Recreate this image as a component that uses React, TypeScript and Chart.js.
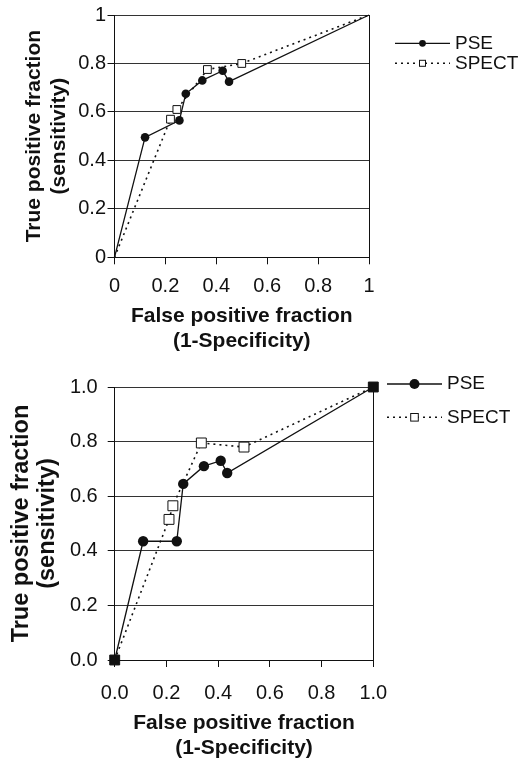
import React, { useEffect, useRef } from 'react';
import { Chart, registerables } from 'chart.js';
Chart.register(...registerables);

// ---------- data ----------
const seriesNames = ['PSE', 'SPECT'];

const topPseX = [0, 0.12, 0.255, 0.28, 0.345, 0.425, 0.45, 1];
const topPseY = [0, 0.495, 0.565, 0.675, 0.73, 0.77, 0.725, 1];
const topSpectX = [0, 0.22, 0.245, 0.365, 0.5, 1];
const topSpectY = [0, 0.57, 0.61, 0.775, 0.8, 1];

const bottomPseX = [0, 0.11, 0.24, 0.265, 0.345, 0.41, 0.435, 1];
const bottomPseY = [0, 0.435, 0.435, 0.645, 0.71, 0.73, 0.685, 1];
const bottomSpectX = [0, 0.21, 0.225, 0.335, 0.5, 1];
const bottomSpectY = [0, 0.515, 0.565, 0.795, 0.78, 1];

const topTickLabels = ['0', '0.2', '0.4', '0.6', '0.8', '1'];
const bottomTickLabels = ['0.0', '0.2', '0.4', '0.6', '0.8', '1.0'];

const xTitle = ['False positive fraction', '(1-Specificity)'];
const yTitle = ['True positive fraction', '(sensitivity)'];

const FONT = "'Liberation Sans', Arial, Helvetica, sans-serif";

type Spec = {
  top: number; H: number;
  plotLeft: number; plotRight: number; plotTop: number; plotBottom: number;
  yTitleSize: number; yTitleLH: number; yTitlePad: number;
  xTitleSize: number; xTitleLH: number; xTitlePad: number;
  xTickPad: number; yTickPad: number;
  circleR: number; rectR: number; endFilled: boolean;
  legend: { x0: number; x1: number; tx: number; ys: number[]; cr: number; rh: number };
  pseX: number[]; pseY: number[]; spX: number[]; spY: number[];
  tickLabels: string[];
};

const specs: Spec[] = [
  {
    top: 0, H: 365,
    plotLeft: 114.5, plotRight: 369, plotTop: 15, plotBottom: 257.3,
    yTitleSize: 21, yTitleLH: 25, yTitlePad: 21.5,
    xTitleSize: 21, xTitleLH: 25, xTitlePad: 10.8,
    xTickPad: 10.4, yTickPad: 1.5,
    circleR: 4.3, rectR: 5.5, endFilled: false,
    legend: { x0: 395, x1: 450, tx: 455, ys: [43.3, 63.3], cr: 3.4, rh: 3 },
    pseX: topPseX, pseY: topPseY, spX: topSpectX, spY: topSpectY,
    tickLabels: topTickLabels,
  },
  {
    top: 365, H: 402,
    plotLeft: 114.7, plotRight: 373.3, plotTop: 17.7, plotBottom: 295,
    yTitleSize: 23.5, yTitleLH: 26, yTitlePad: 8.7,
    xTitleSize: 21, xTitleLH: 25, xTitlePad: 6.2,
    xTickPad: 14, yTickPad: 10,
    circleR: 5.2, rectR: 7, endFilled: true,
    legend: { x0: 387, x1: 442, tx: 447, ys: [19, 52.3], cr: 5, rh: 3.8 },
    pseX: bottomPseX, pseY: bottomPseY, spX: bottomSpectX, spY: bottomSpectY,
    tickLabels: bottomTickLabels,
  },
];

function buildConfig(s: Spec): any {
  const W = 525;
  const pse = s.pseX.map((x, i) => ({ x, y: s.pseY[i] }));
  const sp = s.spX.map((x, i) => ({ x, y: s.spY[i] }));
  const lastP = pse.length - 1;
  const lastS = sp.length - 1;

  const legendPlugin = {
    id: 'customLegend',
    afterDraw(chart: any) {
      const ctx = chart.ctx;
      const L = s.legend;
      ctx.save();
      // PSE
      let y = L.ys[0];
      ctx.strokeStyle = '#111';
      ctx.lineWidth = 1.3;
      ctx.setLineDash([]);
      ctx.beginPath(); ctx.moveTo(L.x0, y); ctx.lineTo(L.x1, y); ctx.stroke();
      ctx.fillStyle = '#111';
      ctx.beginPath(); ctx.arc((L.x0 + L.x1) / 2, y, L.cr, 0, Math.PI * 2); ctx.fill();
      ctx.font = `19px ${FONT}`;
      ctx.textBaseline = 'middle';
      ctx.textAlign = 'left';
      ctx.fillText(seriesNames[0], L.tx, y);
      // SPECT
      y = L.ys[1];
      ctx.lineWidth = 1.5;
      ctx.setLineDash([2, 4]);
      ctx.beginPath(); ctx.moveTo(L.x0, y); ctx.lineTo(L.x1, y); ctx.stroke();
      ctx.setLineDash([]);
      const mx = (L.x0 + L.x1) / 2;
      ctx.fillStyle = '#fff';
      ctx.fillRect(mx - L.rh, y - L.rh, L.rh * 2, L.rh * 2);
      ctx.lineWidth = 1;
      ctx.strokeRect(mx - L.rh, y - L.rh, L.rh * 2, L.rh * 2);
      ctx.fillStyle = '#111';
      ctx.fillText(seriesNames[1], L.tx, y);
      ctx.restore();
    },
  };

  return {
    type: 'scatter',
    data: {
      datasets: [
        {
          label: seriesNames[0],
          data: pse,
          showLine: true,
          clip: false,
          order: 1,
          borderColor: '#111',
          borderWidth: 1.3,
          pointStyle: 'circle',
          pointRadius: pse.map((_, i) => (i === 0 || i === lastP ? 0 : s.circleR)),
          pointBackgroundColor: '#111',
          pointBorderColor: '#111',
          pointBorderWidth: 0,
        },
        {
          label: seriesNames[1],
          data: sp,
          showLine: true,
          clip: false,
          order: 0,
          borderColor: '#111',
          borderWidth: 1.6,
          borderDash: [2, 4],
          pointStyle: 'rect',
          pointRadius: sp.map((_, i) =>
            i === 0 || i === lastS ? (s.endFilled ? s.rectR : 0) : s.rectR
          ),
          pointBackgroundColor: sp.map((_, i) =>
            i === 0 || i === lastS ? '#111' : '#fff'
          ),
          pointBorderColor: '#111',
          pointBorderWidth: 1,
        },
      ],
    },
    options: {
      responsive: false,
      animation: false,
      devicePixelRatio: 1,
      layout: {
        padding: { left: 0, top: s.plotTop, right: W - s.plotRight, bottom: 0 },
      },
      plugins: {
        legend: { display: false },
        tooltip: { enabled: false },
      },
      scales: {
        x: {
          type: 'linear',
          min: 0,
          max: 1,
          afterFit(scale: any) {
            scale.height = s.H - s.plotBottom;
          },
          ticks: {
            stepSize: 0.2,
            autoSkip: false,
            maxRotation: 0,
            padding: s.xTickPad,
            color: '#111',
            font: { family: FONT, size: 20 },
            callback: (_v: any, i: number) => s.tickLabels[i],
          },
          grid: {
            drawOnChartArea: true,
            drawTicks: true,
            tickLength: 7,
            tickColor: '#111',
            lineWidth: 1,
            color: (ctx: any) => (ctx.tick && ctx.tick.value === 1 ? '#111' : 'rgba(0,0,0,0)'),
          },
          border: { display: true, color: '#111', width: 1 },
          title: {
            display: true,
            text: xTitle,
            color: '#111',
            font: { family: FONT, size: s.xTitleSize, weight: 'bold', lineHeight: `${s.xTitleLH}px` },
            padding: { top: 0, bottom: s.xTitlePad },
          },
        },
        y: {
          type: 'linear',
          min: 0,
          max: 1,
          afterFit(scale: any) {
            scale.width = s.plotLeft;
          },
          ticks: {
            stepSize: 0.2,
            autoSkip: false,
            padding: s.yTickPad,
            color: '#111',
            font: { family: FONT, size: 20 },
            callback: (_v: any, i: number) => s.tickLabels[i],
          },
          grid: {
            drawOnChartArea: true,
            drawTicks: true,
            tickLength: 7,
            tickColor: '#111',
            lineWidth: 1,
            color: '#333',
          },
          border: { display: true, color: '#111', width: 1 },
          title: {
            display: true,
            text: yTitle,
            color: '#111',
            font: { family: FONT, size: s.yTitleSize, weight: 'bold', lineHeight: `${s.yTitleLH}px` },
            padding: { top: s.yTitlePad, bottom: 0 },
          },
        },
      },
    },
    plugins: [legendPlugin],
  };
}

function RocChart({ spec }: { spec: Spec }) {
  const ref = useRef<HTMLCanvasElement | null>(null);
  useEffect(() => {
    if (!ref.current) return;
    const chart = new Chart(ref.current, buildConfig(spec));
    return () => chart.destroy();
  }, [spec]);
  return (
    <canvas
      ref={ref}
      width={525}
      height={spec.H}
      style={{ position: 'absolute', left: 0, top: spec.top, width: 525, height: spec.H }}
    />
  );
}

export default function App() {
  return (
    <div style={{ position: 'absolute', left: 0, top: 0, width: 525, height: 767, background: '#fff' }}>
      {specs.map((s, i) => (
        <RocChart key={i} spec={s} />
      ))}
    </div>
  );
}
